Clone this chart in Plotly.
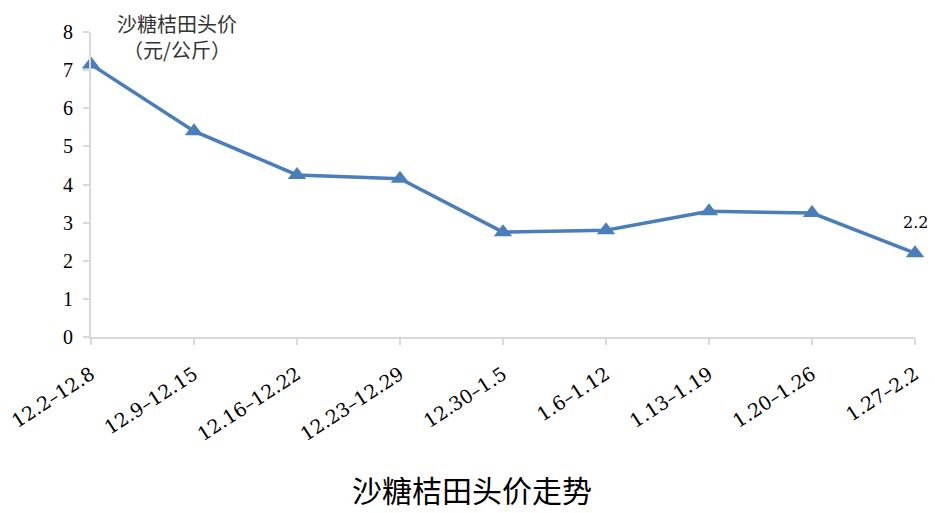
import plotly.graph_objects as go

categories = ["12.2–12.8", "12.9–12.15", "12.16–12.22", "12.23–12.29", "12.30–1.5",
              "1.6–1.12", "1.13–1.19", "1.20–1.26", "1.27–2.2"]
prices = [7.15, 5.4, 4.25, 4.15, 2.75, 2.8, 3.3, 3.25, 2.2]
y_ticks = [0, 1, 2, 3, 4, 5, 6, 7, 8]
y_title_lines = ["沙糖桔田头价", "（元/公斤）"]
chart_title = "沙糖桔田头价走势"

line_color = "#4A7EBB"
axis_color = "#D9D9D9"

fig = go.Figure()
fig.add_trace(go.Scatter(
    x=categories, y=prices, mode="lines+markers",
    line=dict(color=line_color, width=3.5),
    marker=dict(symbol="triangle-up", size=16, color=line_color),
    cliponaxis=False, showlegend=False,
))

# data label on last point
fig.add_annotation(x=categories[-1], y=prices[-1], text=str(prices[-1]),
                   showarrow=False, yshift=31,
                   font=dict(family="DejaVu Serif", size=16, color="#000"))

# y-axis title (two lines, one text block)
fig.add_annotation(xref="paper", yref="paper", x=0.104, y=1.0, yshift=-4,
                   xanchor="center", yanchor="middle", align="center",
                   text="<br>".join(y_title_lines), showarrow=False,
                   font=dict(family="Noto Sans CJK SC", size=20, color="#333"))

# chart title at bottom
fig.add_annotation(xref="paper", yref="paper", x=0.462, y=0, yshift=-152,
                   xanchor="center", yanchor="middle",
                   text=chart_title, showarrow=False,
                   font=dict(family="Noto Sans CJK SC", size=30, color="#000"))

# page has an 8px body margin, so the figure is sized/offset to compensate
fig.update_layout(
    width=927, height=505,
    margin=dict(l=83, r=20, t=24, b=176),
    plot_bgcolor="white", paper_bgcolor="white",
    xaxis=dict(type="category", range=[0, len(categories) - 1], automargin=False,
               showgrid=False, showline=True, linecolor=axis_color, linewidth=2,
               ticks="outside", ticklen=6, tickcolor=axis_color, tickwidth=2,
               tickangle=-33, ticklabelstandoff=11,
               tickfont=dict(family="DejaVu Serif", size=19, color="#000")),
    yaxis=dict(range=[0, 8], tickvals=y_ticks, showgrid=False, zeroline=False,
               automargin=False, ticklabelstandoff=6,
               showline=True, linecolor=axis_color, linewidth=2,
               ticks="outside", ticklen=6, tickcolor=axis_color, tickwidth=2,
               tickfont=dict(family="Liberation Serif", size=20, color="#000")),
)

fig.write_html("out.html")
